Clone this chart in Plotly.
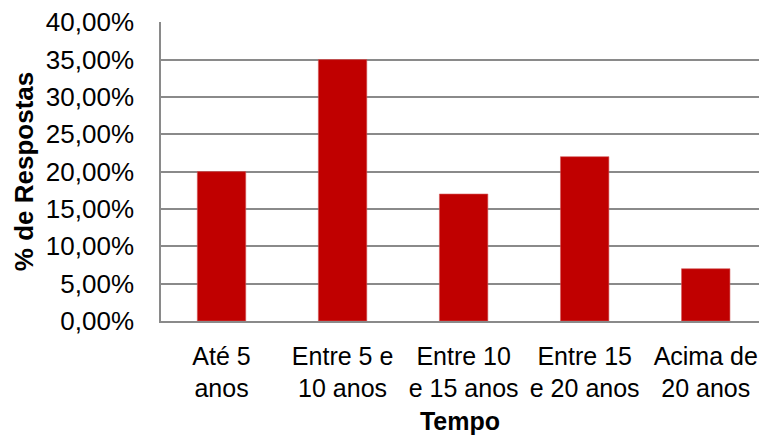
import plotly.graph_objects as go

# data
categories = ["Até 5<br>anos", "Entre 5 e<br>10 anos", "Entre 10<br>e 15 anos",
              "Entre 15<br>e 20 anos", "Acima de<br>20 anos"]
respostas = [0.20, 0.35, 0.17, 0.22, 0.07]
y_ticks = [0, 0.05, 0.10, 0.15, 0.20, 0.25, 0.30, 0.35, 0.40]

FONT = "Liberation Sans, Arial, sans-serif"
GRID = "#8a8a8a"

fig = go.Figure()
fig.add_trace(go.Bar(
    x=categories,
    y=respostas,
    marker=dict(color="#C00000", line=dict(color="#d45a5a", width=0.6)),
    width=0.4,
))

fig.update_layout(
    width=759,
    height=437,
    margin=dict(l=161, r=0, t=22, b=116),
    paper_bgcolor="white",
    plot_bgcolor="white",
    separators=",.",
    showlegend=False,
    font=dict(family=FONT, color="black"),
    xaxis=dict(
        title=dict(text="<b>Tempo</b>", font=dict(size=25), standoff=11),
        tickfont=dict(size=25),
        range=[-0.5, 4.44],
        automargin=False,
        showline=True,
        linecolor=GRID,
        linewidth=1.5,
        showgrid=False,
        ticks="",
        ticklabelstandoff=12,
    ),
    yaxis=dict(
        title=dict(text="<b>% de Respostas</b>", font=dict(size=26), standoff=5),
        tickfont=dict(size=26),
        range=[0, 0.4003],
        tickvals=y_ticks,
        tickformat=".2%",
        automargin=False,
        showline=True,
        linecolor=GRID,
        linewidth=1.5,
        showgrid=True,
        gridcolor=GRID,
        gridwidth=1.5,
        zeroline=False,
        ticks="",
        ticklabelstandoff=20,
    ),
)

# drop the default 8px page margin so the figure fills the window exactly
fig.write_html(
    "out.html",
    config={"displayModeBar": False},
    post_script="document.body.style.margin = '0';",
)
